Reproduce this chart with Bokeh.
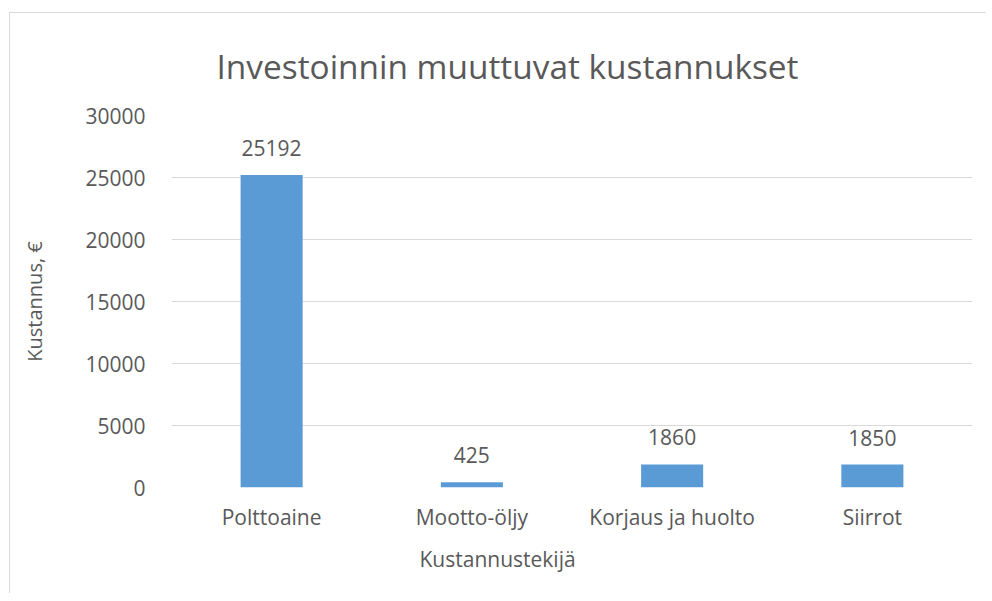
from bokeh.plotting import figure
from bokeh.models import ColumnDataSource, Range1d, FactorRange, Title, LabelSet, SingleIntervalTicker
from bokeh.core.properties import value
from bokeh.embed import file_html
from bokeh.resources import INLINE

categories = ["Polttoaine", "Mootto-öljy", "Korjaus ja huolto", "Siirrot"]
costs = [25192, 425, 1860, 1850]
cost_labels = [str(v) for v in costs]

title_text = "Investoinnin muuttuvat kustannukset"
x_title = "Kustannustekijä"
y_title = "Kustannus, €"

FONT = "Open Sans"
TXT = "#595959"

src = ColumnDataSource(dict(cat=categories, val=costs, lab=cost_labels))

p = figure(
    x_range=FactorRange(*categories, range_padding=0),
    y_range=Range1d(0, 30000),
    width=976, height=580,
    frame_width=801, frame_height=372,
    min_border_left=161, min_border_top=102,
    min_border_right=14, min_border_bottom=106,
    output_backend="svg", toolbar_location=None,
)
p.styles = {"border-left": "1px solid #D9D9D9", "border-top": "1px solid #D9D9D9",
            "margin-left": "9px", "margin-top": "12px"}
p.outline_line_color = None
p.background_fill_color = "white"
p.border_fill_color = "white"

p.vbar(x="cat", top="val", width=0.31, source=src, fill_color="#5B9BD5", line_color=None)

labels = LabelSet(x="cat", y="val", text="lab", source=src, text_align="center",
                  text_baseline="alphabetic", y_offset=19, text_font=value(FONT),
                  text_font_size="21px", text_color=TXT)
p.add_layout(labels)

p.yaxis.ticker = SingleIntervalTicker(interval=5000)
for ax in (p.xaxis, p.yaxis):
    ax.axis_line_color = None
    ax.major_tick_line_color = None
    ax.minor_tick_line_color = None
    ax.major_tick_out = 0
    ax.major_tick_in = 0
    ax.major_label_text_font = FONT
    ax.major_label_text_font_size = "21px"
    ax.major_label_text_color = TXT
p.yaxis.major_label_standoff = 22
p.xaxis.major_label_standoff = 15
p.xgrid.grid_line_color = None
p.ygrid.grid_line_color = "#D9D9D9"
p.ygrid.grid_line_width = 1

# y axis title
p.yaxis.axis_label = y_title
p.yaxis.axis_label_standoff = 34
p.yaxis.axis_label_text_font = FONT
p.yaxis.axis_label_text_font_size = "20px"
p.yaxis.axis_label_text_font_style = "normal"
p.yaxis.axis_label_text_color = TXT

# chart title and x axis title, placed as in the reference (centred on the chart area)
p.title.text = title_text
p.title.align = "left"
p.title.offset = 45
p.title.standoff = 54
p.title.text_font = FONT
p.title.text_font_size = "33.4px"
p.title.text_font_style = "normal"
p.title.text_color = TXT

p.add_layout(Title(text=x_title, align="left", offset=248, standoff=18,
                   text_font=FONT, text_font_size="21px", text_font_style="normal",
                   text_color=TXT), "below")

open("out.html", "w").write(file_html(p, INLINE))
